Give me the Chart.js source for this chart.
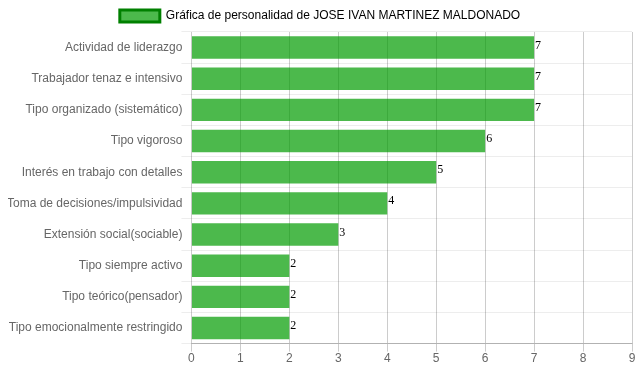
<!DOCTYPE html>
<html>
<head>
<meta charset="utf-8">
<script src="https://cdn.jsdelivr.net/npm/chart.js@4/dist/chart.umd.min.js"></script>
<style>
  html, body { margin: 0; padding: 0; background: #fff; }
  #wrap { width: 639px; height: 372px; }
</style>
</head>
<body>
<div id="wrap"><canvas id="myChart"></canvas></div>
<script>
const seriesName = "Gráfica de personalidad de JOSE IVAN MARTINEZ MALDONADO";
const categories = [
  "Actividad de liderazgo",
  "Trabajador tenaz e intensivo",
  "Tipo organizado (sistemático)",
  "Tipo vigoroso",
  "Interés en trabajo con detalles",
  "Toma de decisiones/impulsividad",
  "Extensión social(sociable)",
  "Tipo siempre activo",
  "Tipo teórico(pensador)",
  "Tipo emocionalmente restringido"
];
const values = [7, 7, 7, 6, 5, 4, 3, 2, 2, 2];
const xTicks = [0, 1, 2, 3, 4, 5, 6, 7, 8, 9];

Chart.defaults.font.family = "'Liberation Sans', Arial, sans-serif";
Chart.defaults.font.size = 12;
Chart.defaults.color = "#666";

// Value labels at the end of each bar
const valueLabels = {
  id: "valueLabels",
  afterDatasetsDraw(chart) {
    const ctx = chart.ctx;
    ctx.save();
    ctx.font = "12px 'Liberation Serif', serif";
    ctx.fillStyle = "#000";
    ctx.textAlign = "left";
    ctx.textBaseline = "alphabetic";
    chart.getDatasetMeta(0).data.forEach((bar, i) => {
      ctx.fillText(values[i], bar.x + 1, bar.y + 1);
    });
    ctx.restore();
  }
};

const ctx = document.getElementById("myChart").getContext("2d");

new Chart(ctx, {
  type: "bar",
  data: {
    labels: categories,
    datasets: [{
      label: seriesName,
      data: values,
      backgroundColor: "rgba(0,155,0,0.7)",
      borderColor: "rgba(0,128,0,1)",
      borderWidth: 0
    }]
  },
  options: {
    indexAxis: "y",
    responsive: true,
    maintainAspectRatio: false,
    animation: false,
    layout: { padding: { left: 8, right: 7, top: 0, bottom: 6 } },
    plugins: {
      tooltip: { enabled: false },
      legend: {
        position: "top",
        labels: {
          boxWidth: 40,
          boxHeight: 12,
          padding: 10,
          generateLabels: (chart) => [{
            text: seriesName,
            fillStyle: "rgba(0,155,0,0.7)",
            strokeStyle: "rgba(0,128,0,1)",
            lineWidth: 3,
            datasetIndex: 0
          }]
        }
      }
    },
    scales: {
      x: {
        min: 0,
        max: 9,
        afterBuildTicks: axis => { axis.ticks = xTicks.map(v => ({ value: v })); },
        grid: { color: "rgba(0,0,0,0.2)", tickLength: 8 },
        border: { color: "rgba(0,0,0,0.25)" },
        ticks: { padding: 0 }
      },
      y: {
        grid: { color: "rgba(0,0,0,0.07)", offset: true, tickLength: 10 },
        border: { display: false },
        ticks: { padding: -1 }
      }
    }
  },
  plugins: [valueLabels]
});
</script>
</body>
</html>
